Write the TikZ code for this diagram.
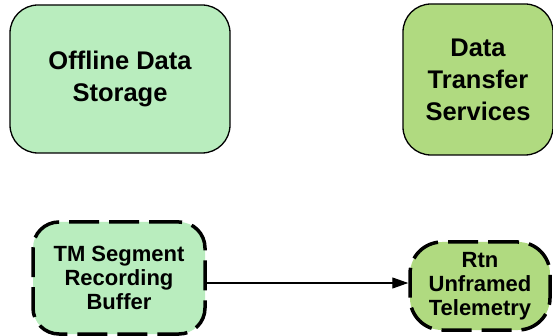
\documentclass[tikz,border=0pt]{standalone}
\usepackage{fontspec}
\setmainfont{Liberation Sans}
\usetikzlibrary{arrows.meta}
\definecolor{paleGreen}{RGB}{185,237,190}
\definecolor{midGreen}{RGB}{176,218,128}
\tikzset{
  bigbox/.style={draw=black, line width=1.3pt, rounded corners=28pt, align=center,
    font=\fontsize{25.5}{32}\selectfont\bfseries, inner sep=0pt},
  smallbox/.style={draw=black, line width=3.5pt, dash pattern=on 30pt off 10pt,
    rounded corners=26pt, align=center, font=\fontsize{22}{24}\selectfont\bfseries, inner sep=0pt},
  flow/.style={line width=1.2pt, -{Triangle[length=16pt,width=11pt]}}
}
\begin{document}
\begin{tikzpicture}[x=1pt,y=-1pt]
\useasboundingbox (0,0) rectangle (553,336);
\node[bigbox, fill=paleGreen, minimum width=220pt, minimum height=148pt] (offline) at (120,79) {Offline Data\\Storage};
\node[bigbox, fill=midGreen, minimum width=150pt, minimum height=151pt] (dts) at (478,79.5) {Data\\Transfer\\Services};
\node[smallbox, fill=paleGreen, minimum width=172pt, minimum height=112pt] (tm) at (119,278) {TM Segment\\Recording\\Buffer};
\node[smallbox, fill=midGreen, minimum width=140pt, minimum height=88pt, rounded corners=32pt] (rtn) at (480,286) {Rtn\\Unframed\\Telemetry};
\coordinate (ay) at (0,283);
\draw[flow] (tm.east |- ay) -- (rtn.west |- ay);
\end{tikzpicture}
\end{document}
